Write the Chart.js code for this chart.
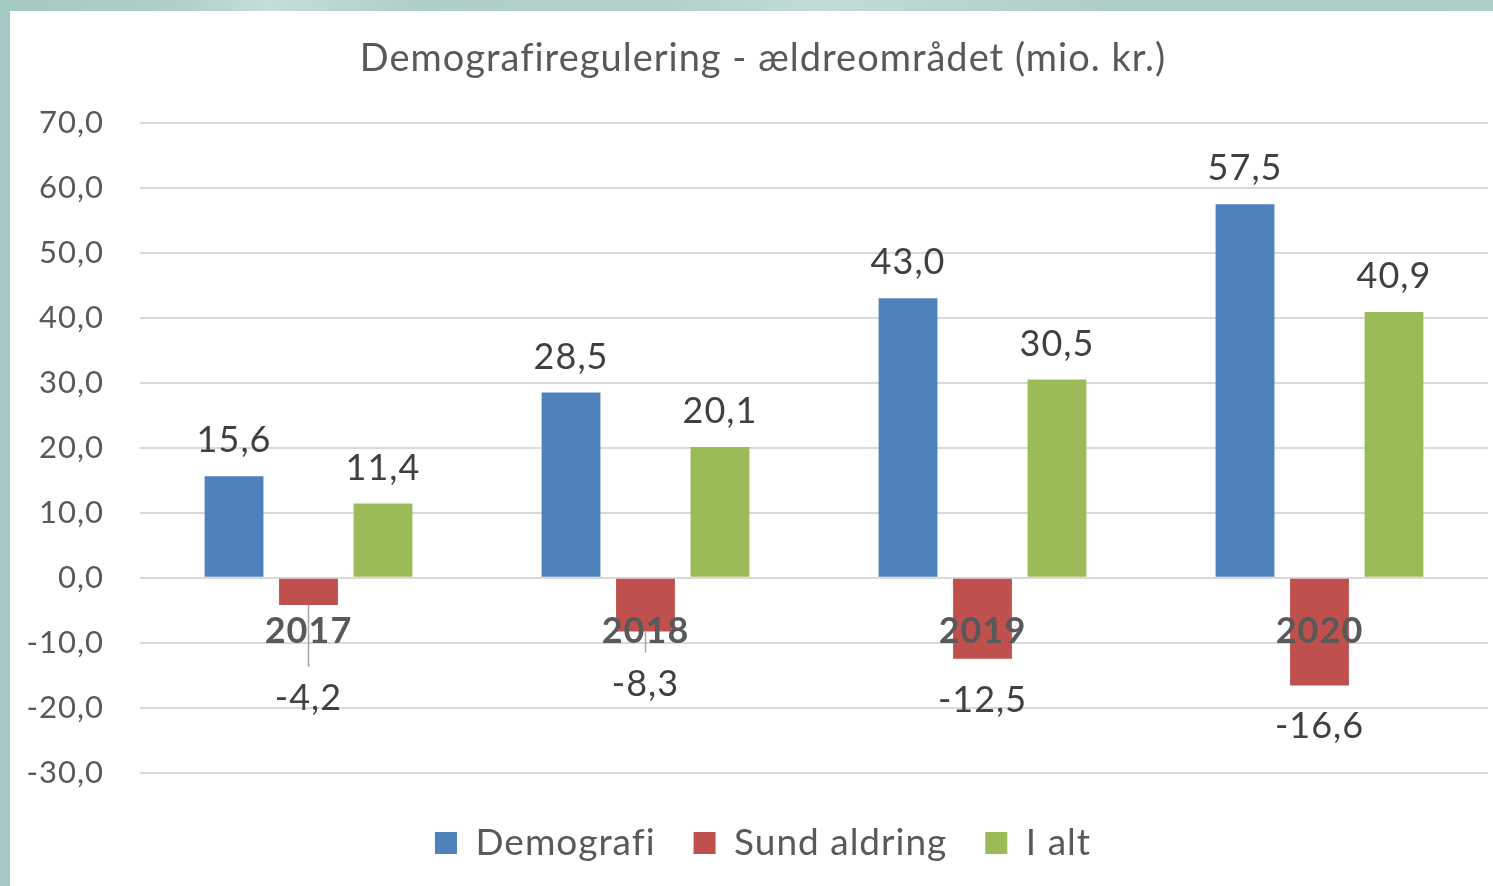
<!DOCTYPE html>
<html lang="da">
<head>
<meta charset="UTF-8">
<title>Demografiregulering - ældreområdet</title>
<script src="https://cdn.jsdelivr.net/npm/chart.js"></script>
<style>
  html, body { margin: 0; padding: 0; overflow: hidden; }
  body {
    width: 1493px; height: 886px;
    background: linear-gradient(90deg, #a4c8c2 0%, #b0cfca 12%, #c6ddd9 18%, #aecec9 28%, #b3d1cc 45%, #c3dbd7 55%, #adcdc8 75%, #aecec9 100%);
  }
  #wrap { position: absolute; left: 10px; top: 11px; width: 1506px; height: 875px; background: #fff; }
</style>
</head>
<body>
<div id="wrap"><canvas id="chart"></canvas></div>
<script>
const years = ['2017', '2018', '2019', '2020'];
const demografi = [15.6, 28.5, 43.0, 57.5];
const sundAldring = [-4.2, -8.3, -12.5, -16.6];
const iAlt = [11.4, 20.1, 30.5, 40.9];
const yMin = -30, yMax = 70, yStep = 10;

const fmt = v => v.toFixed(1).replace('.', ',');

// a bit of letter spacing: widens Lato towards Calibri and avoids the fi ligature
const spacing = {
  id: 'spacing',
  beforeLayout(chart) { chart.ctx.letterSpacing = '1px'; },
  beforeDraw(chart) { chart.ctx.letterSpacing = '1px'; },
  // y labels are clipped to the scale box; let them use the left padding too
  afterLayout(chart) { chart.scales.y.left = 0; }
};

// value labels above / below bars, Excel style (some nudged down with a leader line)
const valueLabels = {
  id: 'valueLabels',
  afterDraw(chart, args, opts) {
    const ctx = chart.ctx;
    ctx.save();
    ctx.font = '36px Lato';
    ctx.fillStyle = '#404040';
    ctx.textAlign = 'center';
    ctx.textBaseline = 'alphabetic';
    chart.data.datasets.forEach((ds, di) => {
      const meta = chart.getDatasetMeta(di);
      meta.data.forEach((bar, i) => {
        const v = ds.data[i];
        if (v >= 0) {
          ctx.fillText(fmt(v), bar.x, bar.y - 24);
        } else {
          const nudge = (opts.nudge[di] || [])[i] || 0;
          const y = bar.y + 53 + nudge;
          if (nudge) {
            ctx.strokeStyle = '#a6a6a6';
            ctx.lineWidth = 1.5;
            ctx.beginPath();
            ctx.moveTo(bar.x, bar.y);
            ctx.lineTo(bar.x, y - 43);
            ctx.stroke();
          }
          ctx.fillText(fmt(v), bar.x, y);
        }
      });
    });
    ctx.restore();
  }
};

new Chart(document.getElementById('chart'), {
  type: 'bar',
  data: {
    labels: years,
    datasets: [
      { label: 'Demografi', data: demografi, backgroundColor: '#4f81bd' },
      { label: 'Sund aldring', data: sundAldring, backgroundColor: '#c0504d' },
      { label: 'I alt', data: iAlt, backgroundColor: '#9bbb59' }
    ]
  },
  options: {
    responsive: true,
    maintainAspectRatio: false,
    animation: false,
    datasets: { bar: { barPercentage: 0.79, categoryPercentage: 0.663 } },
    layout: { padding: { left: 28, right: 28, top: 0, bottom: 14.5 } },
    scales: {
      x: {
        position: { y: 0 },
        grid: { display: false, drawTicks: false },
        border: { display: false },
        ticks: { z: 1, padding: 32, color: '#595959', font: { family: 'Lato', size: 36, weight: 'bold' } }
      },
      y: {
        min: yMin,
        max: yMax,
        afterFit: s => { s.width = 102; },
        grid: { color: '#d9d9d9', lineWidth: 2, drawTicks: false },
        border: { display: false },
        ticks: {
          stepSize: yStep,
          padding: 36,
          color: '#595959',
          font: { family: 'Lato', size: 31 },
          callback: v => fmt(v)
        }
      }
    },
    plugins: {
      title: {
        display: true,
        text: 'Demografiregulering - ældreområdet (mio. kr.)',
        color: '#595959',
        font: { family: 'Lato', size: 38, weight: 'normal' },
        padding: { top: 25, bottom: 41.4 }
      },
      legend: {
        position: 'bottom',
        title: { display: true, text: '', font: { size: 1, lineHeight: 1 }, padding: { top: 13, bottom: 0 } },
        labels: {
          boxWidth: 22,
          boxHeight: 22,
          padding: 38,
          color: '#595959',
          font: { family: 'Lato', size: 37 }
        }
      },
      tooltip: { enabled: false },
      valueLabels: { nudge: [[], [52, 11, 0, 0], []] }
    }
  },
  plugins: [spacing, valueLabels]
});
</script>
</body>
</html>
